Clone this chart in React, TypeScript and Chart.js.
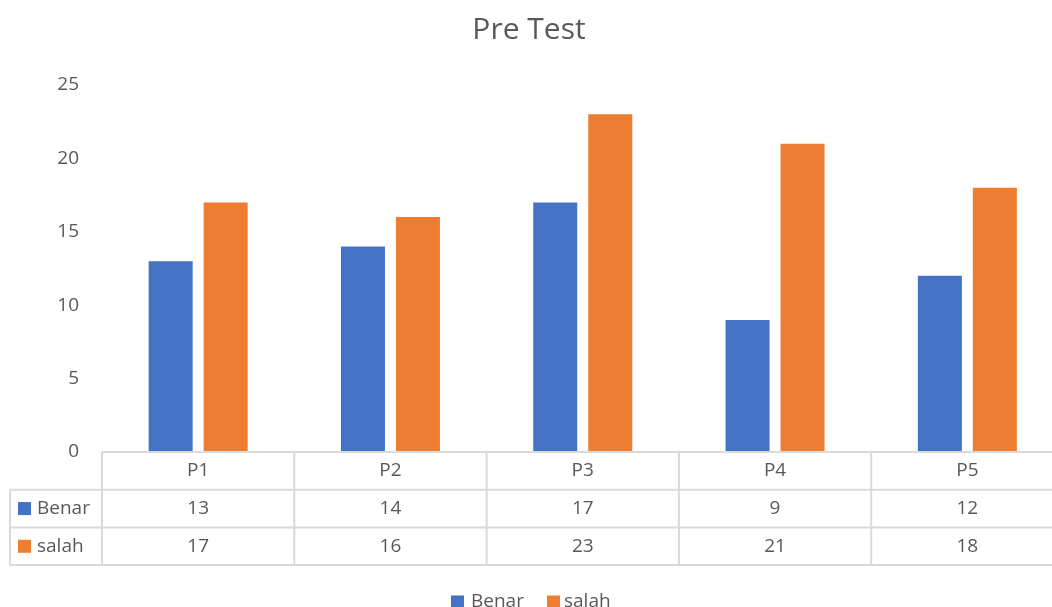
import React, { useEffect, useRef } from "react";
import { Chart, registerables } from "chart.js";

Chart.register(...registerables);

const categories = ["P1", "P2", "P3", "P4", "P5"];
const benar = [13, 14, 17, 9, 12];
const salah = [17, 16, 23, 21, 18];
const seriesNames = ["Benar", "salah"];
const colors = ["#4472C4", "#ED7D31"];
const titleText = "Pre Test";

const FONT = "'Open Sans', 'Noto Sans', sans-serif";
const TEXT = "#595959";
const LINE = "#d9d9d9";
const FS = 19;

const tablePlugin = {
  id: "excelTable",
  afterDraw(chart: any) {
    const ctx = chart.ctx as CanvasRenderingContext2D;
    const x = chart.scales.x;
    const area = chart.chartArea;
    const n = categories.length;
    const cw = (area.right - area.left) / n;
    const top = area.bottom;
    const rowH = 37.7;
    const rows = [top, top + rowH, top + 2 * rowH, top + 3 * rowH];
    const leftX = 10;
    ctx.save();
    // title
    ctx.fillStyle = TEXT;
    ctx.font = `30px ${FONT}`;
    ctx.textAlign = "center";
    ctx.textBaseline = "middle";
    ctx.fillText(titleText, 529, 30);

    // grid lines
    ctx.strokeStyle = LINE;
    ctx.lineWidth = 2;
    ctx.beginPath();
    ctx.moveTo(area.left, rows[0]);
    ctx.lineTo(chart.width, rows[0]);
    for (let r = 1; r < 4; r++) {
      ctx.moveTo(leftX, rows[r]);
      ctx.lineTo(chart.width, rows[r]);
    }
    ctx.moveTo(leftX, rows[1]);
    ctx.lineTo(leftX, rows[3]);
    for (let i = 0; i <= n; i++) {
      const px = area.left + i * cw;
      ctx.moveTo(px, rows[0]);
      ctx.lineTo(px, rows[3]);
    }
    ctx.stroke();

    ctx.font = `${FS}px ${FONT}`;
    ctx.fillStyle = TEXT;
    ctx.textAlign = "center";
    ctx.textBaseline = "middle";
    const data = [benar, salah];
    for (let i = 0; i < n; i++) {
      const cx = x.getPixelForValue(i);
      ctx.fillText(categories[i], cx, (rows[0] + rows[1]) / 2);
      for (let s = 0; s < 2; s++) {
        ctx.fillText(String(data[s][i]), cx, (rows[s + 1] + rows[s + 2]) / 2);
      }
    }
    // row headers
    ctx.textAlign = "left";
    for (let s = 0; s < 2; s++) {
      const cy = (rows[s + 1] + rows[s + 2]) / 2;
      ctx.fillStyle = colors[s];
      ctx.fillRect(18, cy - 6.5, 13, 13);
      ctx.fillStyle = TEXT;
      ctx.fillText(seriesNames[s], 37, cy);
    }
    // bottom legend
    const ly = 602;
    ctx.fillStyle = colors[0];
    ctx.fillRect(451, ly - 6.5, 13, 13);
    ctx.fillStyle = TEXT;
    ctx.fillText(seriesNames[0], 471, ly);
    ctx.fillStyle = colors[1];
    ctx.fillRect(547, ly - 6.5, 13, 13);
    ctx.fillStyle = TEXT;
    ctx.fillText(seriesNames[1], 564, ly);
    ctx.restore();
  },
};

export default function App() {
  const ref = useRef<HTMLCanvasElement>(null);
  useEffect(() => {
    document.body.style.margin = "0";
    const chart = new Chart(ref.current!, {
      type: "bar",
      data: {
        labels: categories,
        datasets: [
          { label: seriesNames[0], data: benar, backgroundColor: colors[0] },
          { label: seriesNames[1], data: salah, backgroundColor: colors[1] },
        ],
      },
      options: {
        animation: false,
        responsive: false,
        devicePixelRatio: 1,
        layout: { padding: { left: 0, right: 16.5, top: 85, bottom: 155 } },
        datasets: { bar: { categoryPercentage: 0.572, barPercentage: 0.8 } },
        plugins: { legend: { display: false }, title: { display: false }, tooltip: { enabled: false } },
        scales: {
          x: { display: false },
          y: {
            min: 0,
            max: 25,
            ticks: { stepSize: 5, padding: 23, color: TEXT, font: { family: FONT, size: FS } },
            grid: { display: false, drawTicks: false },
            border: { display: false },
            afterFit: (s: any) => {
              s.width = 102;
            },
          },
        },
      },
      plugins: [tablePlugin],
    });
    return () => chart.destroy();
  }, []);
  return (
    <div style={{ position: "fixed", left: 0, top: 0, width: 1052, height: 607, overflow: "hidden", background: "#fff" }}>
      <canvas ref={ref} width={1080} height={607} />
    </div>
  );
}
